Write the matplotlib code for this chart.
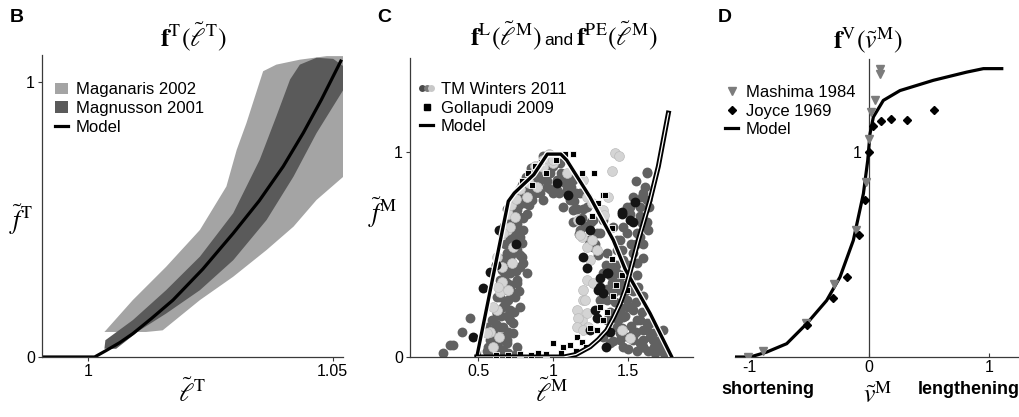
import matplotlib
matplotlib.use("Agg")
import matplotlib.pyplot as plt
import matplotlib.patheffects as pe
from matplotlib.patches import Patch
from matplotlib.lines import Line2D
from matplotlib.legend_handler import HandlerTuple

plt.rcParams["font.family"] = ["Liberation Sans", "DejaVu Sans"]
plt.rcParams["mathtext.fontset"] = "stix"

# ---------------- panel B: tendon force-length ----------------
mag_upper_x = [1.0034, 1.0092, 1.0160, 1.0229, 1.0283, 1.0304, 1.0324, 1.0348, 1.0358,
               1.0385, 1.0433, 1.0488, 1.0522]
mag_upper_y = [0.091, 0.207, 0.328, 0.462, 0.620, 0.753, 0.851, 0.984, 1.039,
               1.063, 1.081, 1.094, 1.094]
mag_lower_x = [1.0522, 1.0467, 1.0420, 1.0365, 1.0297, 1.0229, 1.0153, 1.0119, 1.0034]
mag_lower_y = [0.656, 0.571, 0.474, 0.389, 0.292, 0.207, 0.097, 0.091, 0.091]

mns_upper_x = [1.0034, 1.0036, 1.0092, 1.0160, 1.0229, 1.0297, 1.0351, 1.0385, 1.0413,
               1.0433, 1.0467, 1.0501, 1.0522]
mns_upper_y = [0.030, 0.061, 0.134, 0.243, 0.365, 0.523, 0.717, 0.875, 1.009,
               1.063, 1.088, 1.084, 1.057]
mns_lower_x = [1.0522, 1.0467, 1.0420, 1.0365, 1.0297, 1.0229, 1.0160, 1.0106, 1.0058, 1.0034]
mns_lower_y = [0.972, 0.814, 0.656, 0.498, 0.352, 0.243, 0.158, 0.097, 0.030, 0.030]

tendon_x = [0.9906, 1.0000, 1.0014, 1.0038, 1.0065, 1.0092, 1.0130, 1.0174, 1.0235, 1.0297,
            1.0350, 1.0399, 1.0440, 1.0477, 1.0518]
tendon_y = [0.0, 0.0, 0.0, 0.024, 0.052, 0.085, 0.140, 0.207, 0.320, 0.450,
            0.568, 0.693, 0.815, 0.936, 1.081]

# ---------------- panel C: active / passive force-length ----------------
active_x = [0.49, 0.70, 0.74, 0.87, 0.96, 1.05, 1.09, 1.245, 1.40, 1.478, 1.645, 1.79]
active_y = [0.0, 0.76, 0.80, 0.89, 0.99, 0.99, 0.96, 0.78, 0.57, 0.43, 0.213, 0.0]
passive_x = [0.49, 1.00, 1.07, 1.15, 1.245, 1.30, 1.356, 1.40, 1.445, 1.48, 1.51, 1.567,
             1.645, 1.70, 1.767]
passive_y = [0.0, 0.0, 0.0, 0.012, 0.05, 0.085, 0.13, 0.19, 0.26, 0.33, 0.41, 0.57,
             0.766, 0.93, 1.19]

win_dark = [
    (0.267, 0.018), (0.311, 0.058), (0.33, 0.06), (0.389, 0.124), (0.445, 0.189),
    (0.567, 0.05), (0.622, 0.083), (0.689, 0.067), (0.756, 0.05), (0.6, 0.132),
    (0.667, 0.148), (0.733, 0.164), (0.622, 0.213), (0.711, 0.229), (0.778, 0.246),
    (0.645, 0.294), (0.733, 0.31), (0.689, 0.359), (0.756, 0.376), (0.656, 0.424),
    (0.733, 0.441), (0.8, 0.457), (0.689, 0.506), (0.756, 0.522), (0.711, 0.571),
    (0.778, 0.587), (0.656, 0.603), (0.58, 0.02), (0.64, 0.02), (0.70, 0.02),
    (0.6, 0.18), (0.68, 0.26), (0.67, 0.64), (0.71, 0.67), (0.74, 0.70), (0.69, 0.72),
    (0.73, 0.76), (0.77, 0.74), (0.76, 0.80), (0.80, 0.78), (0.79, 0.84), (0.83, 0.82),
    (0.82, 0.88), (0.86, 0.86), (0.85, 0.92), (0.89, 0.90), (0.92, 0.94), (0.93, 0.98),
    (0.689, 0.083), (0.733, 0.115), (0.644, 0.148), (0.711, 0.180), (0.622, 0.213),
    (0.667, 0.246), (0.744, 0.294), (0.622, 0.294), (0.689, 0.327), (0.756, 0.359),
    (0.644, 0.376), (0.711, 0.408), (0.778, 0.441), (0.689, 0.489), (0.744, 0.522),
    (0.789, 0.554), (0.711, 0.571), (0.756, 0.603), (0.8, 0.62), (0.733, 0.652),
    (0.778, 0.685), (0.822, 0.70), (0.756, 0.717), (0.811, 0.75), (0.856, 0.766),
    (0.911, 0.798), (0.956, 0.831), (0.867, 0.815), (0.933, 0.766), (1.0, 0.798),
    (1.022, 0.863), (0.978, 0.912), (1.044, 0.945), (0.911, 0.863), (0.833, 0.831),
    (0.756, 0.75), (0.578, 0.083), (0.6, 0.115), (0.611, 0.018), (0.667, 0.034),
    (0.756, 0.018), (0.556, 0.148), (0.589, 0.18), (0.644, 0.083), (0.789, 0.489),
    (0.822, 0.408),
    (0.56, 0.03), (0.59, 0.07), (0.63, 0.05), (0.66, 0.10), (0.70, 0.12), (0.62, 0.16),
    (0.69, 0.20), (0.65, 0.20), (0.74, 0.22), (0.70, 0.28), (0.66, 0.33), (0.72, 0.35),
    (0.77, 0.32), (0.68, 0.40), (0.75, 0.42), (0.70, 0.45), (0.66, 0.48), (0.72, 0.50),
    (0.78, 0.50), (0.68, 0.55), (0.74, 0.58), (0.70, 0.60), (0.76, 0.65), (0.80, 0.68),
    (0.72, 0.62), (0.84, 0.74), (0.88, 0.80), (0.90, 0.85), (0.95, 0.88), (0.98, 0.82),
    (1.04, 0.80), (1.06, 0.86), (1.09, 0.82),
    (0.978, 0.896), (1.022, 0.815), (1.078, 0.847), (1.111, 0.766), (1.133, 0.717),
    (1.067, 0.733), (1.178, 0.62), (1.289, 0.603), (1.333, 0.668), (1.4, 0.636),
    (1.444, 0.571), (1.489, 0.603), (1.578, 0.587), (1.6, 0.481), (1.533, 0.506),
    (1.467, 0.473), (1.422, 0.408), (1.389, 0.359), (1.444, 0.327), (1.511, 0.359),
    (1.356, 0.278), (1.422, 0.213), (1.511, 0.246), (1.556, 0.18), (1.622, 0.164),
    (1.667, 0.115), (1.711, 0.083), (1.6, 0.083), (1.533, 0.099), (1.444, 0.083),
    (1.378, 0.067), (1.733, 0.132), (1.622, 0.904), (1.551, 0.86), (1.589, 0.782),
    (1.511, 0.733), (1.489, 0.717), (1.622, 0.66), (1.589, 0.652), (1.422, 0.522),
    (1.556, 0.457), (1.422, 0.327), (1.489, 0.246), (1.6, 0.132), (1.644, 0.099),
    (1.689, 0.067), (1.422, 0.148), (1.333, 0.099), (1.533, 0.083), (1.467, 0.05),
    (1.6, 0.05), (1.711, 0.034), (1.644, 0.164), (1.567, 0.343), (1.511, 0.376),
    (1.05, 0.9), (1.0, 0.93), (0.96, 0.86), (1.1, 0.88), (1.15, 0.8), (1.2, 0.72),
    (1.25, 0.66),
    (1.133, 0.864), (1.178, 0.798), (1.222, 0.733), (1.267, 0.668), (1.311, 0.603),
    (1.267, 0.538), (1.356, 0.506), (1.4, 0.441), (1.333, 0.408), (1.444, 0.359),
    (1.4, 0.31), (1.489, 0.278), (1.533, 0.229), (1.467, 0.197), (1.578, 0.18),
    (1.622, 0.132), (1.533, 0.115), (1.667, 0.083), (1.6, 0.05), (1.711, 0.05),
    (1.444, 0.115), (1.356, 0.18), (1.311, 0.278), (1.556, 0.603), (1.6, 0.668),
    (1.622, 0.766), (1.578, 0.733), (1.511, 0.70), (1.467, 0.636), (1.422, 0.571),
    (1.622, 0.896), (1.611, 0.831), (1.533, 0.782), (1.489, 0.733),
    (1.12, 0.83), (1.14, 0.76), (1.16, 0.72), (1.19, 0.68), (1.13, 0.66), (1.21, 0.64),
    (1.17, 0.60), (1.24, 0.57), (1.28, 0.55), (1.30, 0.50), (1.35, 0.45), (1.38, 0.40),
    (1.40, 0.37), (1.46, 0.40), (1.48, 0.32), (1.36, 0.33), (1.41, 0.27), (1.45, 0.24),
    (1.38, 0.22), (1.43, 0.18), (1.48, 0.20), (1.52, 0.15), (1.46, 0.14), (1.50, 0.10),
    (1.40, 0.08), (1.55, 0.12), (1.58, 0.07), (1.63, 0.03), (1.67, 0.05), (1.56, 0.03),
    (1.50, 0.04), (1.68, 0.02), (1.74, 0.02), (1.59, 0.22), (1.55, 0.27), (1.60, 0.30),
    (1.53, 0.32), (1.56, 0.40), (1.60, 0.55), (1.63, 0.62), (1.58, 0.69), (1.64, 0.73),
    (1.60, 0.80), (1.55, 0.55), (1.50, 0.45), (1.52, 0.55), (1.46, 0.52), (1.42, 0.45),
]
win_light = [
    (0.645, 0.319), (0.7, 0.327), (0.622, 0.229), (0.722, 0.457), (0.733, 0.538),
    (0.689, 0.62), (0.656, 0.367), (0.58, 0.12), (0.6, 0.05), (0.64, 0.10),
    (0.70, 0.70), (0.72, 0.74), (0.75, 0.77), (0.78, 0.82), (0.84, 0.85), (0.88, 0.93),
    (0.93, 0.96), (0.97, 0.99), (1.0, 0.945), (1.089, 0.896), (1.2, 0.863),
    (1.222, 0.782), (1.256, 0.75), (1.167, 0.668), (1.189, 0.587), (1.222, 0.538),
    (1.289, 0.522), (1.222, 0.376), (1.2, 0.327), (1.2, 0.278), (1.156, 0.229),
    (1.189, 0.18), (1.233, 0.148), (1.178, 0.595), (1.245, 0.473), (1.267, 0.359),
    (1.211, 0.278), (1.222, 0.213), (1.167, 0.189), (1.156, 0.148), (1.2, 0.132),
    (1.256, 0.571), (1.456, 0.132), (1.511, 0.091), (1.411, 0.993), (1.44, 0.98),
    (1.389, 0.909), (1.367, 0.78), (1.329, 0.717), (1.338, 0.692),
    (0.556, 0.115), (0.6, 0.246), (0.633, 0.343), (0.656, 0.441), (0.622, 0.489),
    (0.711, 0.636), (0.744, 0.685), (0.667, 0.603), (0.822, 0.782), (0.889, 0.831),
    (0.933, 0.928), (1.0, 0.961),
]
win_black = [
    (0.467, 0.099), (0.534, 0.335), (0.578, 0.416), (0.636, 0.62), (0.75, 0.55),
    (0.62, 0.45), (1.022, 0.847), (1.1, 0.79), (1.178, 0.668), (1.245, 0.62),
    (1.2, 0.49), (1.367, 0.408), (1.311, 0.343), (1.333, 0.31), (1.278, 0.229),
    (1.544, 0.757), (1.511, 0.668), (1.456, 0.709), (1.222, 0.432), (1.311, 0.384),
    (1.356, 0.408), (1.3, 0.327), (1.289, 0.189), (1.245, 0.132), (1.533, 0.66),
    (1.455, 0.70), (1.35, 0.05), (1.38, 0.12),
]
goll = [
    (0.79, 0.86), (0.83, 0.9), (0.88, 0.93), (0.92, 0.95), (0.97, 0.99), (1.02, 0.96),
    (1.08, 0.99), (1.13, 0.99), (1.19, 0.90), (1.27, 0.90), (1.33, 0.79), (1.30, 0.75),
    (1.26, 0.69), (1.39, 0.63), (1.344, 0.79), (0.86, 0.84), (0.95, 0.9),
    (0.62, 0.01), (0.7, 0.01), (0.78, 0.015), (0.85, 0.01), (0.9, 0.02), (0.95, 0.015),
    (1.0, 0.067), (1.067, 0.05), (1.111, 0.058), (1.156, 0.099), (1.189, 0.075),
    (1.245, 0.14), (1.289, 0.132), (1.311, 0.242), (1.333, 0.18), (1.389, 0.476),
    (1.456, 0.40), (1.489, 0.327), (1.4, 0.3), (1.42, 0.35), (1.36, 0.22),
    (1.22, 0.05), (1.15, 0.03), (1.05, 0.02), (0.5, 0.02),
]

# ---------------- panel D: force-velocity ----------------
fv_x = [-1.117, -0.99, -0.853, -0.686, -0.519, -0.353, -0.242, -0.131, -0.047, -0.011,
        0.008, 0.036, 0.119, 0.258, 0.536, 0.814, 0.953, 1.106]
fv_y = [0.0, 0.0, 0.024, 0.065, 0.163, 0.276, 0.39, 0.569, 0.797, 0.959,
        1.089, 1.171, 1.252, 1.30, 1.35, 1.39, 1.407, 1.407]
mashima_x = [-1.006, -0.881, -0.525, -0.289, -0.108, -0.028, 0.003, 0.014, 0.05, 0.092, 0.092]
mashima_y = [0.0, 0.03, 0.166, 0.358, 0.621, 0.854, 1.065, 1.195, 1.255, 1.382, 1.407]
joyce_x = [-0.519, -0.303, -0.186, -0.086, -0.036, 0.003, 0.031, 0.097, 0.186, 0.319, 0.544]
joyce_y = [0.154, 0.288, 0.39, 0.593, 0.767, 1.0, 1.125, 1.151, 1.161, 1.154, 1.207]

W, H = 1020, 417
LIGHT, DARK = "#a4a4a4", "#5a5a5a"
AX_COL = "#3a3a3a"
TICK_FS = 11.5
LEG_FS = 12
MATH_FS = 18.5


def px_axes(fig, left, right, top, bottom):
    return fig.add_axes([left / W, 1 - bottom / H, (right - left) / W, (bottom - top) / H])


def style_axes(ax):
    for s in ("top", "right"):
        ax.spines[s].set_visible(False)
    for s in ("left", "bottom"):
        ax.spines[s].set_color(AX_COL)
        ax.spines[s].set_linewidth(0.9)
    ax.tick_params(length=3, width=0.8, color=AX_COL, labelsize=TICK_FS, pad=2)


def add_legend(ax, handles, labels, anchor, **kw):
    ax.legend(handles, labels, loc="upper left", bbox_to_anchor=anchor, frameon=False,
              borderpad=0, borderaxespad=0, fontsize=LEG_FS, handlelength=0.8,
              handletextpad=0.45, labelspacing=0.22, **kw)


fig = plt.figure(figsize=(W / 100, H / 100), dpi=100)

# ---- B ----
axB = px_axes(fig, 41.7, 343, 55, 357)
style_axes(axB)
axB.fill(mag_upper_x + mag_lower_x, mag_upper_y + mag_lower_y, color=LIGHT, lw=0)
axB.fill(mns_upper_x + mns_lower_x, mns_upper_y + mns_lower_y, color=DARK, lw=0)
axB.plot(tendon_x, tendon_y, color="black", lw=2.3, solid_capstyle="butt")
axB.set_xlim(0.9906, 1.0521)
axB.set_ylim(0, 1.098)
axB.set_xticks([1, 1.05], ["1", "1.05"])
axB.set_yticks([0, 1], ["0", "1"])
axB.set_xlabel(r"$\tilde{\ell}^{\mathrm{T}}$", fontsize=MATH_FS, labelpad=0)
axB.set_ylabel(r"$\tilde{f}^{\mathrm{T}}$", fontsize=MATH_FS, rotation=0, va="center", ha="center")
axB.yaxis.set_label_coords(-0.069, 0.454)
axB.text(0.502, 1.06, r"$\mathbf{f}^{\mathrm{T}}(\tilde{\ell}^{\mathrm{T}})$", fontsize=MATH_FS,
         transform=axB.transAxes, ha="center", va="center")
add_legend(axB,
           [Patch(fc=LIGHT, lw=0), Patch(fc=DARK, lw=0), Line2D([], [], color="black", lw=2.3)],
           ["Maganaris 2002", "Magnusson 2001", "Model"], (0.044, 0.91))

# ---- C ----
axC = px_axes(fig, 410, 693, 58, 357)
style_axes(axC)
axC.scatter([p[0] for p in win_dark], [p[1] for p in win_dark], s=50, color="#616161",
            lw=0, zorder=2)
axC.scatter([p[0] for p in win_light], [p[1] for p in win_light], s=50, color="#d4d4d4",
            edgecolor="#bcbcbc", lw=0.5, zorder=2.1)
axC.scatter([p[0] for p in win_black], [p[1] for p in win_black], s=50, color="#141414",
            lw=0, zorder=2.2)
axC.scatter([p[0] for p in goll], [p[1] for p in goll], s=16, marker="s", color="black",
            edgecolor="white", lw=0.6, zorder=3)
axC.plot(active_x, active_y, color="black", lw=2.4, zorder=4,
         path_effects=[pe.Stroke(linewidth=4.2, foreground="white"), pe.Normal()])
axC.plot(passive_x, passive_y, color="black", lw=3.6, zorder=4,
         path_effects=[pe.Normal(), pe.Stroke(linewidth=0.9, foreground="white")])
axC.set_xlim(0.045, 1.931)
axC.set_ylim(0, 1.459)
axC.set_xticks([0.5, 1, 1.5], ["0.5", "1", "1.5"])
axC.set_yticks([0, 1], ["0", "1"])
axC.set_xlabel(r"$\tilde{\ell}^{\mathrm{M}}$", fontsize=MATH_FS, labelpad=0)
axC.set_ylabel(r"$\tilde{f}^{\mathrm{M}}$", fontsize=MATH_FS, rotation=0, va="center", ha="center")
axC.yaxis.set_label_coords(-0.099, 0.482)
title_y = 1 - 45 / H
fig.text(542 / W, title_y, r"$\mathbf{f}^{\mathrm{L}}(\tilde{\ell}^{\mathrm{M}})$",
         fontsize=MATH_FS, ha="right", va="baseline")
fig.text(559 / W, title_y, "and", fontsize=12.5, ha="center", va="baseline")
fig.text(576 / W, title_y, r"$\mathbf{f}^{\mathrm{PE}}(\tilde{\ell}^{\mathrm{M}})$",
         fontsize=MATH_FS, ha="left", va="baseline")
trio = tuple(Line2D([], [], ls="none", marker="o", ms=5, mec="none", color=c)
             for c in ("#4a4a4a", "#7a7a7a", "#c8c8c8"))
add_legend(axC,
           [trio, Line2D([], [], ls="none", marker="s", ms=4, color="black"),
            Line2D([], [], color="black", lw=2.3)],
           ["TM Winters 2011", "Gollapudi 2009", "Model"], (0.035, 0.92),
           handler_map={tuple: HandlerTuple(ndivide=None, pad=0)})

# ---- D ----
axD = px_axes(fig, 735, 1020, 59, 357)
style_axes(axD)
axD.spines["left"].set_position(("data", 0))
axD.plot(fv_x, fv_y, color="black", lw=2.3, zorder=3)
axD.plot(mashima_x, mashima_y, ls="none", marker="v", ms=6, color="#7c7c7c", zorder=4)
axD.plot(joyce_x, joyce_y, ls="none", marker="D", ms=4.5, color="black", zorder=4)
axD.set_xlim(-1.117, 1.258)
axD.set_ylim(0, 1.454)
axD.set_xticks([-1, 0, 1], ["-1", "0", "1"])
axD.set_yticks([1], ["1"])
axD.tick_params(axis="x", direction="in")
axD.set_xlabel(r"$\tilde{v}^{\mathrm{M}}$", fontsize=MATH_FS, labelpad=5)
axD.text(0.467, 1.064, r"$\mathbf{f}^{\mathrm{V}}(\tilde{v}^{\mathrm{M}})$", fontsize=MATH_FS,
         transform=axD.transAxes, ha="center", va="center")
add_legend(axD,
           [Line2D([], [], ls="none", marker="v", ms=6, color="#7c7c7c"),
            Line2D([], [], ls="none", marker="D", ms=4.5, color="black"),
            Line2D([], [], color="black", lw=2.3)],
           ["Mashima 1984", "Joyce 1969", "Model"], (-0.035, 0.913))
fig.text(768 / W, 1 - 390 / H, "shortening", fontsize=13, fontweight="bold",
         ha="center", va="center")
fig.text(969 / W, 1 - 390 / H, "lengthening", fontsize=13, fontweight="bold",
         ha="center", va="center")

# panel letters
for lab, x in (("B", 17), ("C", 384), ("D", 725)):
    fig.text(x / W, 1 - 18 / H, lab, fontsize=14, fontweight="bold", ha="center", va="center")

fig.savefig("out.png", dpi=100)
